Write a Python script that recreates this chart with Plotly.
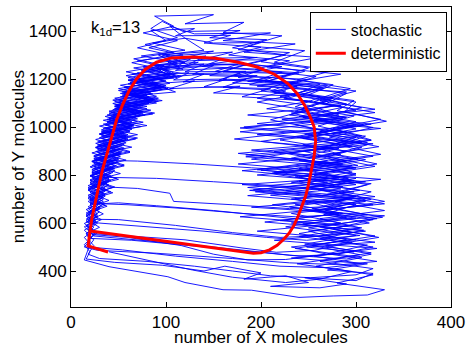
import plotly.graph_objects as go

# deterministic limit cycle (initial point, then one cycle)
det_x = [39, 18, 20, 60, 100, 140, 181, 192, 200, 209, 217, 224, 230, 235, 239, 243, 247, 250, 253, 256,
         257.5, 256, 252, 246, 238, 228, 214, 196, 176, 152, 128, 106, 90, 78, 69, 61, 54, 48, 43, 38,
         33, 29, 25, 22, 20]
det_y = [479, 504, 567, 545, 523, 500, 477, 474, 476, 488, 507, 532, 560, 592, 628, 668, 712, 760, 820, 880,
         940, 1000, 1040, 1090, 1140, 1182, 1220, 1250, 1270, 1286, 1292, 1288, 1270, 1240, 1200, 1150, 1090, 1030, 960, 890,
         820, 750, 680, 620, 567]

# stochastic trajectory, read cycle by cycle (x, y)
cycle_01 = [(40,480),(64,460),(128,404),(170,374),(226,352),(262,366),(296,398),(238,430),(304,468),(254,506),
            (320,546),(262,584),(328,624),(274,660),(310,700),(192,738),(298,776),(180,818),(290,858),(246,898),
            (312,936),(262,982),(300,1022),(236,1066),(270,1108),(212,1148),(244,1176),(176,1206),(202,1240),(138,1252),
            (160,1284),(102,1270),(118,1240),(84,1262),(106,1222),(60,1196),(96,1168),(52,1140),(88,1112),(46,1086),
            (72,1058),(38,1032),(64,1004),(32,976),(58,948),(28,920),(52,890),(24,860),(44,832),(22,800),
            (40,772),(18,742),(36,712),(20,682)]
cycle_02 = [(20,682),(60,676),(120,660),(180,640),(236,626),(282,634),(230,668),(296,700),(188,736),(270,770),
            (210,806),(296,840),(184,876),(276,910),(220,946),(290,980),(196,1014),(282,1050),(250,1090),(196,1120),
            (226,1150),(160,1166),(184,1198),(118,1188),(140,1220),(92,1206),(70,1226),(98,1190),(56,1164),(86,1138),
            (44,1112),(80,1086),(40,1058),(62,1030),(30,1004),(56,976),(26,948),(50,920),(22,892),(48,862),
            (20,834),(38,804),(24,776),(44,748),(20,718),(34,690),(18,660),(28,630),(16,604)]
cycle_03 = [(16,604),(62,590),(140,566),(206,540),(248,528),(304,548),(250,580),(322,618),(268,652),(330,690),
            (282,726),(316,764),(196,800),(302,840),(260,880),(324,918),(272,958),(318,998),(256,1040),(306,1080),
            (262,1120),(294,1160),(238,1196),(276,1236),(214,1270),(246,1318),(186,1338),(222,1380),(160,1394),(182,1436),
            (120,1430),(150,1468),(88,1462),(108,1420),(76,1392),(112,1360),(82,1330),(118,1300),(70,1276),(104,1246),
            (64,1220),(100,1192),(56,1166),(84,1140),(50,1114),(76,1088),(42,1062),(70,1034),(36,1008),(62,980),
            (32,952),(54,922),(28,894),(50,864),(24,834),(42,806),(20,776),(36,746),(18,716),(32,686),
            (16,656),(28,626),(14,598),(24,570),(14,540),(20,512)]
cycle_04 = [(20,512),(14,446),(40,418),(68,398),(102,376),(120,352),(140,336),(160,322),(190,320),(240,290),
            (276,296),(312,300),(330,322),(280,350),(318,384),(258,420),(306,456),(236,494),(290,530),(250,566),
            (314,600),(266,636),(300,676),(186,714),(286,752),(240,792),(300,830),(232,870),(282,910),(172,950),
            (262,990),(210,1030),(248,1070),(196,1104),(230,1130),(150,1142),(178,1170),(104,1160),(130,1192),(86,1180),
            (110,1146),(64,1130),(90,1100),(46,1076),(78,1050),(38,1024),(64,996),(30,970),(56,942),(26,914),
            (52,884),(22,856),(46,826),(20,796)]
cycle_05 = [(20,796),(40,790),(90,786),(150,772),(210,756),(262,744),(300,760),(236,792),(294,830),(190,866),
            (250,904),(316,946),(276,994),(326,1032),(280,1068),(298,1110),(240,1142),(262,1178),(196,1196),(222,1228),
            (152,1232),(176,1262),(110,1250),(126,1284),(86,1266),(96,1228),(60,1206),(92,1178),(50,1152),(82,1126),
            (44,1098),(70,1070),(36,1044),(60,1016),(32,988),(58,960),(26,932),(48,904),(24,876),(44,846),
            (22,816),(40,786),(18,756),(34,726),(20,696),(30,666),(16,636),(26,606),(18,578),(22,552)]
cycle_06 = [(22,552),(60,540),(116,506),(150,470),(186,446),(226,448),(270,470),(232,500),(300,530),(196,566),
            (284,600),(232,640),(318,676),(210,716),(284,742),(232,770),(300,800),(252,840),(318,878),(266,916),
            (300,956),(178,996),(286,1034),(240,1072),(274,1112),(214,1142),(238,1170),(170,1184),(196,1214),(128,1220),
            (150,1256),(96,1238),(112,1206),(72,1194),(100,1164),(58,1138),(86,1110),(48,1084),(68,1054),(34,1028),
            (62,1000),(30,972),(54,944),(26,916),(50,886),(22,858),(44,828),(20,798),(38,768),(18,738),
            (34,708),(20,678)]
cycle_07 = [(20,678),(50,684),(90,672),(150,652),(200,632),(256,610),(300,620),(252,650),(330,680),(270,720),
            (312,760),(256,798),(320,836),(270,876),(306,914),(244,952),(300,992),(256,1030),(320,1060),(268,1096),
            (290,1140),(226,1170),(258,1210),(194,1240),(230,1276),(166,1300),(200,1332),(140,1350),(168,1382),(110,1380),
            (130,1410),(84,1402),(100,1360),(70,1330),(104,1300),(64,1268),(96,1240),(58,1214),(90,1186),(50,1160),
            (80,1132),(46,1106),(72,1078),(38,1050),(64,1022),(34,994),(58,966),(28,938),(52,910),(24,880),
            (46,850),(22,822),(40,792),(20,762),(36,732),(18,702),(32,672),(16,642),(26,612),(14,584),
            (22,556)]
cycle_08 = [(22,556),(60,546),(120,530),(180,496),(216,478),(256,486),(296,520),(240,556),(292,590),(178,626),
            (276,662),(236,700),(304,736),(240,774),(296,812),(254,850),(326,886),(282,924),(310,962),(182,1000),
            (290,1040),(206,1076),(252,1108),(180,1126),(210,1160),(140,1168),(164,1200),(108,1196),(124,1226),(80,1216),
            (104,1182),(62,1156),(90,1128),(50,1102),(80,1076),(44,1050),(70,1022),(36,996),(60,968),(30,940),
            (56,912),(26,884),(50,854),(24,826),(42,796),(20,768),(38,738),(18,708),(34,678),(20,648),
            (28,618),(16,590),(26,560),(18,532),(24,506)]
cycle_09 = [(24,506),(18,470),(30,452),(80,440),(130,420),(170,400),(210,380),(252,372),(300,384),(318,410),
            (262,440),(316,476),(246,512),(300,548),(226,584),(290,622),(254,660),(316,698),(260,738),(294,776),
            (214,812),(272,852),(176,890),(290,930),(246,970),(308,1010),(186,1050),(284,1090),(224,1120),(250,1156),
            (188,1176),(212,1206),(146,1214),(170,1246),(110,1236),(134,1270),(90,1256),(110,1222),(70,1200),(100,1172),
            (56,1146),(86,1118),(46,1092),(76,1064),(40,1038),(66,1010),(32,982),(60,954),(28,926),(52,896),
            (24,868),(46,838),(22,808),(42,778),(18,748),(36,718),(20,688),(30,658),(16,628),(28,600),
            (18,572),(24,546)]
cycle_10 = [(24,546),(70,530),(150,500),(230,466),(290,450),(316,470),(268,504),(324,540),(276,576),(318,614),
            (256,652),(310,690),(194,730),(304,770),(262,808),(322,846),(276,886),(312,926),(250,966),(296,1006),
            (240,1044),(286,1082),(226,1118),(266,1160),(206,1190),(246,1232),(186,1264),(226,1300),(170,1330),(206,1364),
            (146,1372),(178,1402),(118,1398),(96,1440),(84,1410),(112,1372),(78,1344),(108,1312),(66,1284),(98,1256),
            (58,1230),(94,1200),(52,1174),(84,1146),(46,1120),(74,1092),(40,1066),(68,1038),(34,1012),(62,984),
            (30,956),(56,928),(26,898),(50,868),(22,840),(44,810),(20,780),(38,750)]
cycle_11 = [(38,750),(70,744),(104,724),(108,690),(170,676),(230,660),(286,672),(232,700),(298,730),(180,760),
            (282,788),(240,826),(302,866),(190,904),(316,944),(270,984),(332,1024),(288,1064),(300,1104),(244,1136),
            (270,1172),(204,1188),(232,1222),(160,1230),(186,1262),(124,1262),(142,1296),(98,1282),(114,1250),(76,1236),
            (102,1206),(60,1180),(92,1152),(52,1126),(82,1098),(44,1072),(72,1044),(38,1018),(64,990),(32,962),
            (58,934),(28,906),(52,876),(24,848),(46,818),(22,788),(40,758),(20,728),(34,698),(18,668),
            (28,638),(16,610),(24,582),(16,556),(20,528)]
cycle_12 = [(20,528),(14,500),(28,486),(90,474),(170,452),(230,434),(284,426),(322,440),(270,472),(312,508),
            (240,544),(304,580),(262,618),(330,652),(278,690),(316,730),(250,768),(300,806),(176,846),(284,886),
            (244,926),(306,964),(260,1004),(298,1046),(236,1084),(262,1124),(200,1150),(226,1186),(156,1196),(178,1226),
            (118,1222),(90,1244),(108,1204),(66,1184),(96,1156),(54,1130),(84,1104),(46,1078),(74,1050),(40,1024),
            (62,996),(30,970),(56,942),(26,914),(50,884),(22,856),(42,826),(20,796),(38,766),(18,736),
            (34,706),(20,676),(30,646),(16,616)]
cycle_13 = [(16,616),(50,614),(110,590),(170,560),(220,540),(270,548),(310,566),(232,600),(312,634),(266,670),
            (300,710),(186,748),(292,786),(246,824),(310,864),(254,902),(290,942),(178,980),(276,1020),(232,1058),
            (290,1096),(250,1134),(276,1176),(220,1206),(250,1246),(200,1272),(230,1310),(176,1322),(200,1352),(150,1350),
            (120,1370),(140,1320),(96,1300),(120,1270),(76,1250),(104,1218),(62,1194),(94,1164),(54,1138),(84,1112),
            (46,1086),(76,1058),(40,1032),(66,1004),(34,976),(60,948),(28,920),(52,890),(24,862)]
cycle_14 = [(24,862),(70,858),(130,846),(190,830),(250,816),(300,830),(240,860),(290,900),(200,940),(270,980),
            (236,1010),(288,1040),(244,1080),(276,1120),(210,1150),(236,1186),(160,1200),(184,1232),(120,1230),(140,1262),
            (94,1250),(110,1214),(68,1196),(98,1166),(56,1142),(88,1116),(48,1090),(74,1062),(40,1036),(66,1008),
            (34,982),(58,954),(30,926),(54,896),(26,868),(48,838),(22,810),(40,780),(20,750),(36,720),
            (18,690),(30,660),(16,630),(26,600),(14,570),(22,540),(14,510),(20,480),(16,450)]
cycle_15 = [(16,450),(46,436),(96,424),(140,400),(162,420),(200,392),(182,366),(226,380),(250,352),(210,336),
            (262,330),(290,346),(246,372),(300,360),(318,390),(270,404),(312,430),(232,454),(298,480),(248,500),
            (320,520),(264,548),(306,580),(220,610),(282,640)]
cycle_16 = [(282,640),(212,676),(300,712),(248,748),(326,782),(200,820),(288,856),(230,892),(318,930),(196,968),
            (300,1004),(244,1040),(320,1074),(262,1110),(300,1150),(230,1184),(284,1220),(206,1250),(260,1290),(182,1312),
            (236,1346),(160,1360),(210,1392),(130,1388),(104,1420),(120,1370),(86,1350),(120,1320),(74,1296),(112,1270),
            (66,1246),(104,1220),(60,1194),(98,1170),(54,1146),(92,1120),(48,1094),(84,1070),(42,1046),(76,1020),
            (38,994),(70,968),(34,942),(64,916),(30,890),(58,862),(28,834),(52,806),(24,778),(46,750),
            (22,722),(40,694),(20,666),(34,638),(18,610),(30,582),(16,556),(24,530),(18,500)]
cycle_17 = [(18,500),(54,488),(110,462),(170,440),(220,420),(268,414),(306,430),(256,462),(322,494),(214,528),
            (296,560),(244,596),(330,630),(190,666),(292,700),(226,736),(310,772),(212,808),(286,846),(184,884),
            (296,920),(238,958),(326,994),(222,1032),(300,1070),(256,1106),(290,1146),(196,1170),(250,1198),(172,1214),
            (222,1252),(146,1262),(196,1290),(114,1284),(150,1316),(92,1300),(112,1262),(74,1236),(108,1210),(62,1186),
            (102,1160),(56,1134),(92,1108),(50,1080),(86,1054),(44,1028),(74,1002),(38,976),(68,950),(34,922),
            (62,894),(30,866),(56,838),(26,810),(50,782),(22,754),(44,726),(20,698),(38,670),(18,642),
            (32,614),(16,586),(28,560),(20,536)]
cycle_18 = [(20,536),(64,528),(130,504),(190,480),(240,462),(280,470),(318,500),(262,534),(308,570),(204,604),
            (286,640),(236,676),(320,710),(250,748),(300,786),(196,822),(270,860),(214,898),(306,936),(260,974),
            (316,1012),(230,1050),(276,1090),(220,1126),(264,1164),(186,1190),(240,1226),(168,1244),(206,1280),(134,1278),
            (170,1312),(100,1296),(124,1258),(82,1240),(116,1212),(70,1188),(108,1160),(60,1136),(96,1110),(52,1084),
            (88,1058),(46,1032),(80,1006),(40,980),(70,954),(36,926),(62,898),(30,870),(56,842),(26,814),
            (48,786),(22,758),(42,730),(20,702),(36,674),(18,646)]

cycles = [cycle_01, cycle_02, cycle_03, cycle_04, cycle_05, cycle_06, cycle_07, cycle_08, cycle_09,
          cycle_10, cycle_11, cycle_12, cycle_13, cycle_14, cycle_15, cycle_16, cycle_17, cycle_18]
stoch_x = [p[0] for c in cycles for p in c]
stoch_y = [p[1] for c in cycles for p in c]

x_ticks = [0, 100, 200, 300, 400]
y_ticks = [400, 600, 800, 1000, 1200, 1400]

FONT = "Liberation Sans, Arial, Helvetica, sans-serif"
FS = 17

fig = go.Figure()
fig.add_trace(go.Scatter(x=stoch_x, y=stoch_y, mode="lines", name="stochastic",
                         line=dict(color="#0000ff", width=0.9)))
fig.add_trace(go.Scatter(x=det_x, y=det_y, mode="lines", name="deterministic",
                         line=dict(color="#ff0000", width=3)))

axis_common = dict(showline=True, linecolor="black", linewidth=1, mirror="ticks",
                   ticks="inside", ticklen=5, tickcolor="black", showgrid=False, zeroline=False,
                   automargin=False,
                   tickfont=dict(family=FONT, size=FS, color="black"))

fig.update_layout(
    width=467, height=344,
    margin=dict(l=71, r=16, t=7, b=37),
    paper_bgcolor="white", plot_bgcolor="white",
    font=dict(family=FONT, size=FS, color="black"),
    xaxis=dict(range=[0, 400], tickvals=x_ticks, **axis_common),
    yaxis=dict(range=[250, 1500], tickvals=y_ticks, **axis_common),
    legend=dict(x=0.989, y=0.985, xanchor="right", yanchor="top",
                bordercolor="black", borderwidth=1, bgcolor="white",
                font=dict(family=FONT, size=16), tracegroupgap=0, itemwidth=30),
    showlegend=True,
    annotations=[
        dict(text="k<sub>1d</sub>=13", x=19, y=1412, xref="x", yref="y",
             xanchor="left", yanchor="middle", showarrow=False,
             font=dict(family=FONT, size=16.5, color="black")),
        dict(text="number of X molecules", x=0.5, y=-0.1, xref="paper", yref="paper",
             xanchor="center", yanchor="middle", showarrow=False,
             font=dict(family=FONT, size=FS, color="black")),
        dict(text="number of Y molecules", x=-0.139, y=0.5, xref="paper", yref="paper",
             xanchor="center", yanchor="middle", showarrow=False, textangle=-90,
             font=dict(family=FONT, size=FS, color="black")),
    ],
)

fig.write_html("out.html", config={"displayModeBar": False},
               post_script="document.body.style.margin='0';document.body.style.overflow='hidden';")
